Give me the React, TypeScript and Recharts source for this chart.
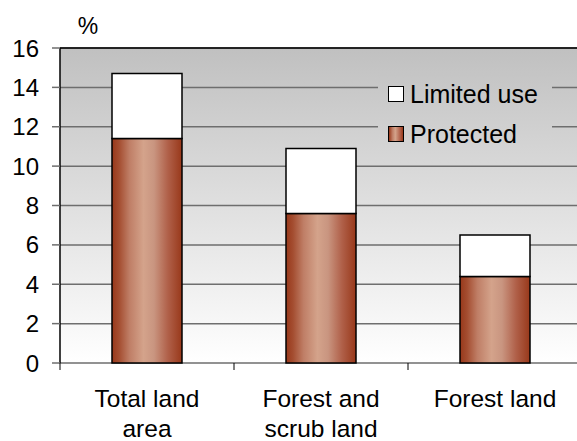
import React from "react"
import {
  Bar,
  BarChart,
  CartesianGrid,
  Legend,
  ReferenceLine,
  XAxis,
  YAxis,
} from "recharts"

const categories = ["Total land\narea", "Forest and\nscrub land", "Forest land"]
const protectedValues = [11.4, 7.6, 4.4]
const limitedUseValues = [3.3, 3.3, 2.1]
const yTicks = [0, 2, 4, 6, 8, 10, 12, 14, 16]

const FONT = "'Liberation Sans', Arial, sans-serif"

const chartData = categories.map((name, i) => ({
  name,
  protected: protectedValues[i],
  limited: limitedUseValues[i],
}))

function CategoryTick(props: any) {
  const { x, y, payload } = props
  const lines = String(payload.value).split("\n")
  const half = 87
  return (
    <g>
      <line x1={x - half} x2={x - half} y1={y - 8} y2={y - 1} stroke="#000" strokeWidth={1} />
      {lines.map((line, i) => (
        <text
          key={i}
          x={x}
          y={y + 36 + i * 30}
          textAnchor="middle"
          fontSize={24.5}
          fontFamily={FONT}
          fill="#000"
        >
          {line}
        </text>
      ))}
    </g>
  )
}

function LegendBox() {
  const items = [
    { label: "Limited use", fill: "#ffffff" },
    { label: "Protected", fill: "linear-gradient(90deg, #98381a 0%, #bf7e66 25%, #d4a38b 45%, #b06049 80%, #98381a 100%)" },
  ]
  return (
    <div
      style={{
        width: 174,
        height: 78,
        background: "linear-gradient(180deg, rgb(197,197,197), rgb(213,213,213))",
        fontFamily: FONT,
        fontSize: 25,
        paddingTop: 0,
        boxSizing: "border-box",
      }}
    >
      {items.map((it) => (
        <div key={it.label} style={{ display: "flex", alignItems: "center", height: 40, paddingLeft: 10, whiteSpace: "nowrap" }}>
          <span
            style={{
              display: "inline-block",
              width: 14,
              height: 14,
              border: "1.5px solid #000",
              background: it.fill,
              marginRight: 6,
              flexShrink: 0,
            }}
          />
          <span style={{ color: "#000" }}>{it.label}</span>
        </div>
      ))}
    </div>
  )
}

export default function App() {
  return (
    <div style={{ position: "absolute", left: 0, top: 0, width: 577, height: 441, overflow: "hidden", background: "#fff" }}>
      <BarChart
        width={582}
        height={441}
        data={chartData}
        margin={{ top: 48, right: 0, left: 0, bottom: 0 }}
        barCategoryGap={0}
      >
        <defs>
          <linearGradient id="plotBg" x1="0" y1="0" x2="0" y2="1">
            <stop offset="0%" stopColor="#c0c0c0" />
            <stop offset="100%" stopColor="#ffffff" />
          </linearGradient>
          <linearGradient id="protFill" x1="0" y1="0" x2="1" y2="0">
            <stop offset="0%" stopColor="#98381a" />
            <stop offset="10%" stopColor="#a44d30" />
            <stop offset="25%" stopColor="#bf7e66" />
            <stop offset="45%" stopColor="#d4a38b" />
            <stop offset="60%" stopColor="#c99580" />
            <stop offset="80%" stopColor="#b06049" />
            <stop offset="100%" stopColor="#98381a" />
          </linearGradient>
        </defs>
        <CartesianGrid vertical={false} fill="url(#plotBg)" stroke="#6e6e6e" strokeWidth={1.5} />
        <XAxis
          dataKey="name"
          height={78}
          axisLine={false}
          tickLine={false}
          interval={0}
          tick={<CategoryTick />}
        />
        <YAxis
          width={60}
          domain={[0, 16]}
          ticks={yTicks}
          interval={0}
          tickSize={8}
          tickMargin={13}
          axisLine={{ stroke: "#000", strokeWidth: 1.5 }}
          tickLine={{ stroke: "#6e6e6e", strokeWidth: 1.5 }}
          tick={{ fontSize: 24, fontFamily: FONT, fill: "#000" }}
          label={(p: any) => (
            <text x={p.viewBox.x + p.viewBox.width + 28} y={p.viewBox.y - 14} fontSize={23} fontFamily={FONT} fill="#000" textAnchor="middle">
              %
            </text>
          )}
        />
        <ReferenceLine y={16} stroke="#000" strokeWidth={1.5} />
        <Legend
          content={() => <LegendBox />}
          wrapperStyle={{ position: "absolute", left: 378, top: 74, width: 0, height: 0, overflow: "visible" }}
        />
        <Bar dataKey="protected" name="Protected" stackId="a" barSize={70} fill="url(#protFill)" stroke="#000" strokeWidth={1.5} isAnimationActive={false} />
        <Bar dataKey="limited" name="Limited use" stackId="a" barSize={70} fill="#ffffff" stroke="#000" strokeWidth={1.5} isAnimationActive={false} />
      </BarChart>
    </div>
  )
}
